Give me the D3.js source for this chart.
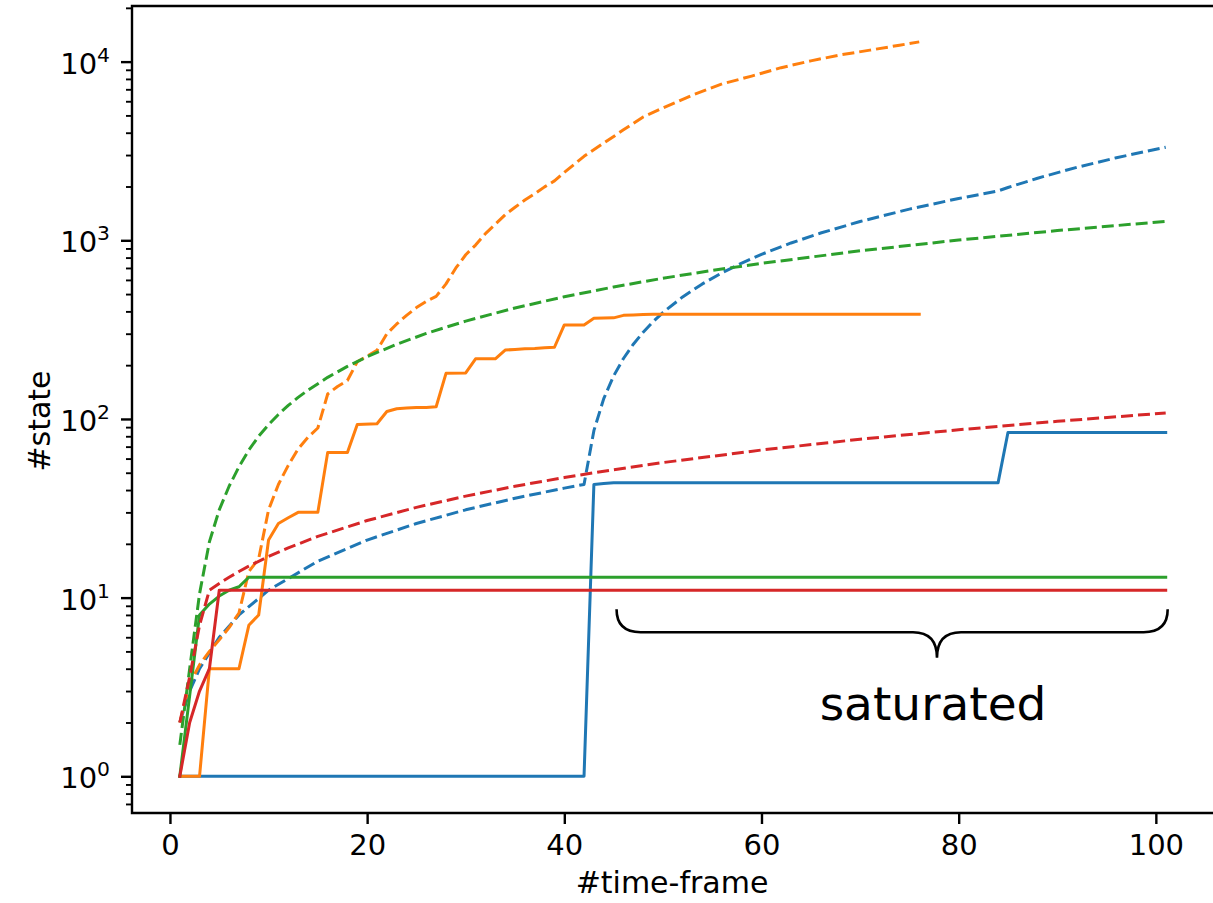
<!DOCTYPE html>
<html>
<head>
<meta charset="utf-8">
<script src="https://cdn.jsdelivr.net/npm/d3@7"></script>
<style>
  body { margin: 0; background: #fff; }
  svg { display: block; font-family: 'DejaVu Sans', sans-serif; }
</style>
</head>
<body>
<svg id="chart"></svg>
<script>
const translate = (x, y) => `translate(${x}, ${y})`;

// Canvas / axes box
const WIDTH = 1213;
const HEIGHT = 903;
const AXIS_LEFT = 132;
const AXIS_RIGHT = 1215;
const AXIS_TOP = 6;
const AXIS_BOTTOM = 813;

const FONT_SIZE = 29;
const LABEL_FONT_SIZE = 30;
const MAJOR_TICK = 11;
const MINOR_TICK = 6;
const LINE_WIDTH = 3;
const DASH = '12,5';

const COLORS = { blue: '#1f77b4', orange: '#ff7f0e', green: '#2ca02c', red: '#d62728' };

// Ticks
const xTickValues = [0, 20, 40, 60, 80, 100];
const yDecades = [0, 1, 2, 3, 4];

// Blue
const blueSolidFrames = [1, 42, 43, 44, 45, 84, 85, 101];
const blueSolidStates = [1, 1, 43, 43.5, 44, 44, 84, 84];
const blueDashFrames = [1, 2, 3, 5, 7, 10, 15, 20, 25, 30, 35, 40, 42, 43, 44, 45, 46, 47, 48, 49, 50, 52, 54, 56, 58, 60, 63, 66, 70, 75, 80, 84, 85, 88, 92, 96, 101];
const blueDashStates = [2, 3, 4, 6, 8, 11, 16, 21, 26, 31, 36, 41, 43, 86, 130, 174, 218, 262, 306, 350, 394, 482, 570, 658, 746, 834, 966, 1098, 1274, 1494, 1714, 1890, 1974, 2226, 2562, 2898, 3318];

// Orange
const orangeSolidFrames = [1, 3, 4, 7, 8, 9, 10, 11, 12, 13, 15, 16, 18, 19, 21, 22, 23, 24, 25, 26, 27, 28, 30, 31, 33, 34, 35, 36, 37, 38, 39, 40, 42, 43, 45, 46, 47, 48, 49, 76];
const orangeSolidStates = [1, 1, 4, 4, 7, 8, 21, 26, 28, 30, 30, 65, 65, 93, 94, 110, 114, 115, 116, 116, 117, 180, 181, 217, 217, 243, 245, 247, 248, 250, 252, 336, 336, 366, 368, 380, 382, 384, 385, 385];
const orangeDashFrames = [1, 2, 3, 4, 5, 6, 7, 8, 9, 10, 11, 12, 13, 14, 15, 16, 17, 18, 19, 20, 21, 22, 23, 24, 25, 26, 27, 28, 29, 30, 31, 32, 33, 34, 35, 36, 37, 38, 39, 40, 42, 44, 46, 48, 50, 53, 56, 59, 62, 65, 68, 71, 74, 76];
const orangeDashStates = [2, 3.3, 4.2, 5, 5.8, 6.8, 8.2, 14, 16.5, 31, 43, 55, 68, 79, 89, 138, 152, 164, 209, 225, 242, 300, 340, 380, 420, 455, 485, 570, 700, 830, 940, 1090, 1230, 1390, 1530, 1680, 1820, 1990, 2150, 2400, 2950, 3500, 4150, 4900, 5500, 6500, 7500, 8300, 9250, 10100, 10900, 11600, 12350, 12900];

// Green
const greenSolidFrames = [1, 3, 4, 5, 6, 7, 8, 101];
const greenSolidStates = [1, 8, 9.2, 10.2, 11, 11.5, 13, 13];
const greenDashFrames = [1, 2, 3, 4, 5, 6, 7, 8, 9, 10, 11, 12, 13, 14, 16, 18, 20, 23, 26, 30, 35, 40, 45, 50, 55, 60, 70, 80, 90, 101];
const greenDashStates = [1.5, 4, 10.5, 20.5, 31, 42, 54, 67, 80, 93, 106, 119, 132, 145, 171, 197, 223, 262, 301, 353, 418, 483, 548, 613, 678, 743, 873, 1003, 1133, 1276];

// Red
const redSolidFrames = [1, 2, 3, 4, 5, 101];
const redSolidStates = [1, 2, 3, 4, 11, 11];
const redDashFrames = [1, 2, 3, 4, 5, 6, 7, 8, 10, 12, 15, 20, 25, 30, 35, 40, 45, 50, 60, 70, 80, 90, 101];
const redDashStates = [2, 3.6, 7, 11, 12, 13, 14, 15, 17, 19, 22, 27, 32, 37, 42, 47, 52, 57, 67, 77, 87, 97, 108];

// Annotation (data units)
const braceFrom = 45.3;
const braceTo = 101.2;
const braceTipFrame = 77.8;
const braceTopState = 8.6;
const braceMidState = 6.4;
const braceTipState = 4.6;
const annotationText = 'saturated';
const annotationFrame = 77.4;
const annotationState = 2.06;

const series = [
  { color: COLORS.blue, dashed: false, frames: blueSolidFrames, states: blueSolidStates },
  { color: COLORS.blue, dashed: true, frames: blueDashFrames, states: blueDashStates },
  { color: COLORS.orange, dashed: false, frames: orangeSolidFrames, states: orangeSolidStates },
  { color: COLORS.orange, dashed: true, frames: orangeDashFrames, states: orangeDashStates },
  { color: COLORS.green, dashed: false, frames: greenSolidFrames, states: greenSolidStates },
  { color: COLORS.green, dashed: true, frames: greenDashFrames, states: greenDashStates },
  { color: COLORS.red, dashed: false, frames: redSolidFrames, states: redSolidStates },
  { color: COLORS.red, dashed: true, frames: redDashFrames, states: redDashStates },
];

const x = d3.scaleLinear().domain([-3.85, 106]).range([AXIS_LEFT, AXIS_RIGHT]);
const y = d3.scaleLog().domain([0.623, 20480]).range([AXIS_BOTTOM, AXIS_TOP]);

const svg = d3.select('#chart')
  .attr('width', WIDTH)
  .attr('height', HEIGHT)
  .attr('viewBox', `0 0 ${WIDTH} ${HEIGHT}`);

svg.append('defs').append('clipPath')
  .attr('id', 'plot-clip')
  .append('rect')
  .attr('x', AXIS_LEFT)
  .attr('y', AXIS_TOP)
  .attr('width', AXIS_RIGHT - AXIS_LEFT)
  .attr('height', AXIS_BOTTOM - AXIS_TOP);

const drawLines = () => {
  const plot = svg.append('g').attr('clip-path', 'url(#plot-clip)');
  series.forEach(s => {
    const points = s.frames.map((f, i) => [f, s.states[i]]);
    const line = d3.line()
      .x(d => x(d[0]))
      .y(d => y(d[1]));
    plot.append('path')
      .datum(points)
      .attr('d', line)
      .attr('fill', 'none')
      .attr('stroke', s.color)
      .attr('stroke-width', LINE_WIDTH)
      .attr('stroke-linejoin', 'round')
      .attr('stroke-linecap', s.dashed ? 'butt' : 'square')
      .attr('stroke-dasharray', s.dashed ? DASH : null);
  });
};

const drawXAxis = () => {
  const axis = d3.axisBottom(x)
    .tickValues(xTickValues)
    .tickSizeInner(MAJOR_TICK)
    .tickSizeOuter(0)
    .tickPadding(10);
  const g = svg.append('g')
    .attr('transform', translate(0, AXIS_BOTTOM))
    .call(axis);
  g.select('.domain').remove();
  g.selectAll('.tick line').attr('stroke', '#000').attr('stroke-width', 2.4);
  g.selectAll('.tick text')
    .attr('fill', '#000')
    .style('font-size', `${FONT_SIZE}px`)
    .style('font-family', 'DejaVu Sans');

  svg.append('text')
    .attr('x', (AXIS_LEFT + 1212) / 2)
    .attr('y', 893)
    .attr('text-anchor', 'middle')
    .style('font-size', `${LABEL_FONT_SIZE}px`)
    .text('#time-frame');
};

const drawYAxis = () => {
  const majorValues = yDecades.map(p => Math.pow(10, p));
  const [lo, hi] = y.domain();
  const minorValues = y.ticks()
    .filter(v => v >= lo && v <= hi)
    .filter(v => !majorValues.some(m => Math.abs(m - v) < 1e-9));

  const minor = svg.append('g')
    .attr('transform', translate(AXIS_LEFT, 0))
    .call(d3.axisLeft(y).tickValues(minorValues).tickSizeInner(MINOR_TICK).tickSizeOuter(0).tickFormat(''));
  minor.select('.domain').remove();
  minor.selectAll('.tick line').attr('stroke', '#000').attr('stroke-width', 1.9);

  const major = svg.append('g')
    .attr('transform', translate(AXIS_LEFT, 0))
    .call(d3.axisLeft(y).tickValues(majorValues).tickSizeInner(MAJOR_TICK).tickSizeOuter(0).tickFormat(''));
  major.select('.domain').remove();
  major.selectAll('.tick line').attr('stroke', '#000').attr('stroke-width', 2.4);

  const labels = svg.append('g')
    .selectAll('text')
    .data(yDecades)
    .enter()
    .append('text')
    .attr('x', AXIS_LEFT - MAJOR_TICK - 11)
    .attr('y', p => y(Math.pow(10, p)) + 12)
    .attr('text-anchor', 'end')
    .style('font-size', `${FONT_SIZE}px`);
  labels.append('tspan').text('10');
  labels.append('tspan')
    .attr('dy', -12)
    .style('font-size', `${FONT_SIZE * 0.7}px`)
    .text(p => p);

  svg.append('text')
    .attr('transform', `${translate(50, 421)} rotate(-90)`)
    .attr('text-anchor', 'middle')
    .style('font-size', `${LABEL_FONT_SIZE}px`)
    .text('#state');
};

const drawSpines = () => {
  svg.append('path')
    .attr('d', `M${AXIS_RIGHT},${AXIS_TOP}H${AXIS_LEFT}V${AXIS_BOTTOM}H${AXIS_RIGHT}`)
    .attr('fill', 'none')
    .attr('stroke', '#000')
    .attr('stroke-width', 2.4);
};

const drawAnnotation = () => {
  const x0 = x(braceFrom);
  const x1 = x(braceTo);
  const xm = x(braceTipFrame);
  const yTop = y(braceTopState);
  const yMid = y(braceMidState);
  const yTip = y(braceTipState);
  const r = 24;

  const p = d3.path();
  p.moveTo(x0, yTop);
  p.quadraticCurveTo(x0, yMid, x0 + r, yMid);
  p.lineTo(xm - r, yMid);
  p.quadraticCurveTo(xm, yMid, xm, yTip);
  p.quadraticCurveTo(xm, yMid, xm + r, yMid);
  p.lineTo(x1 - r, yMid);
  p.quadraticCurveTo(x1, yMid, x1, yTop);

  svg.append('path')
    .attr('d', p.toString())
    .attr('fill', 'none')
    .attr('stroke', '#000')
    .attr('stroke-width', 2.6);

  svg.append('text')
    .attr('x', x(annotationFrame))
    .attr('y', y(annotationState))
    .attr('text-anchor', 'middle')
    .style('font-size', '47px')
    .text(annotationText);
};

drawLines();
drawSpines();
drawXAxis();
drawYAxis();
drawAnnotation();
</script>
</body>
</html>
